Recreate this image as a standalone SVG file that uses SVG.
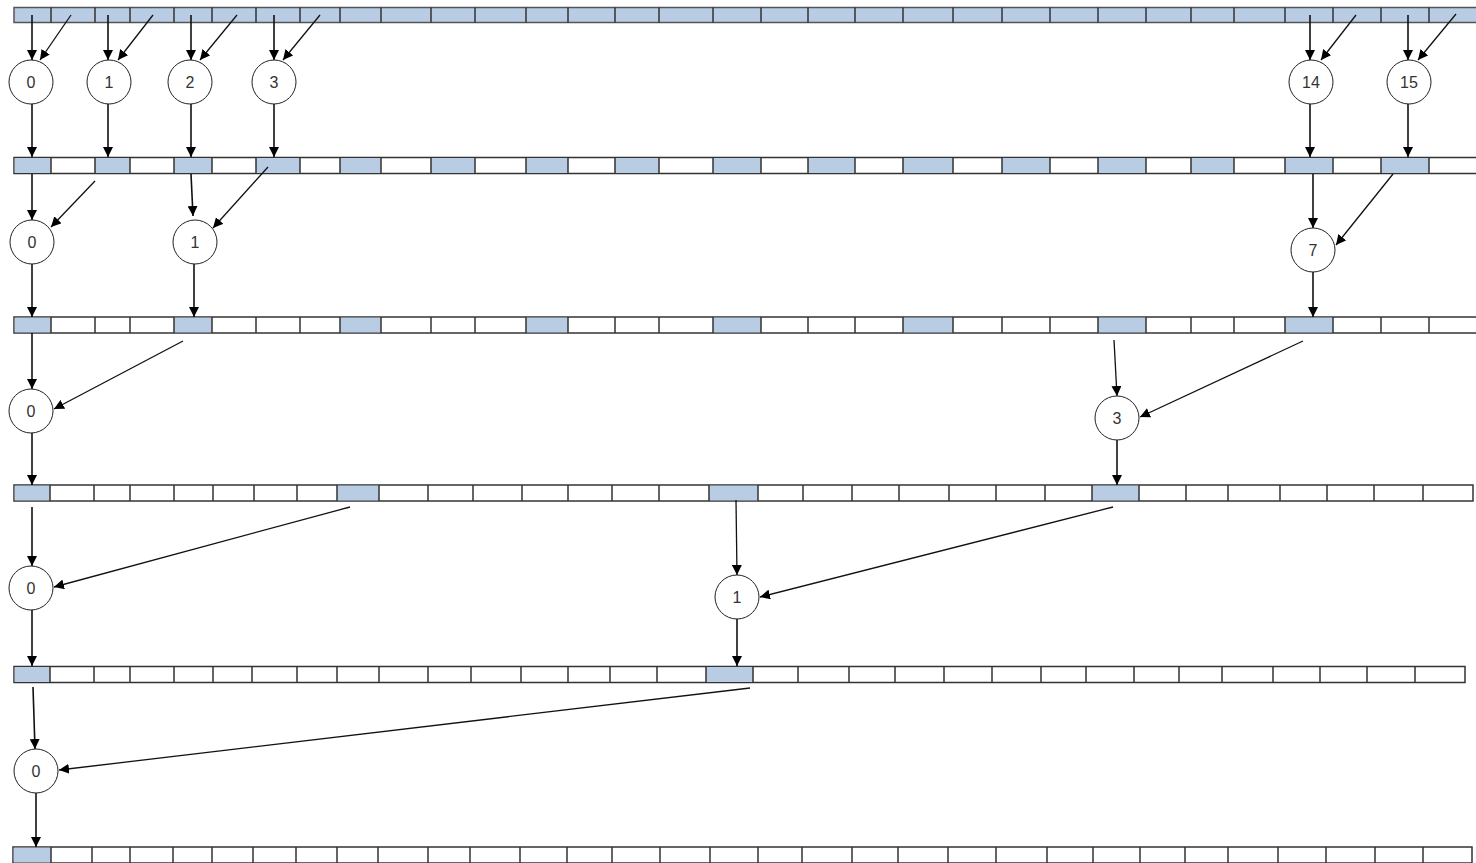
<svg xmlns="http://www.w3.org/2000/svg" width="1476" height="863" viewBox="0 0 1476 863">
<defs>
<marker id="ah" viewBox="0 0 10 10" refX="10" refY="5" markerWidth="10" markerHeight="10" markerUnits="userSpaceOnUse" orient="auto">
<path d="M0,0 L10,5 L0,10 z" fill="#000"/>
</marker>
</defs>
<style>
.row{fill:#fff;stroke:#333;stroke-width:1.5}
.sh{fill:#b8cce4;stroke:none}
.div{stroke:#333;stroke-width:1.5;fill:none}
.nd circle{fill:#fff;stroke:#222;stroke-width:1}
.nd text{font-family:"Liberation Sans",Arial,sans-serif;font-size:16px;fill:#333;text-anchor:middle;dominant-baseline:central}
.c line{stroke:#111;stroke-width:1.3;marker-end:url(#ah)}
.c line.v{stroke-width:1.6}
</style>
<rect width="1476" height="863" fill="#fff"/>

<g id="row1">
<rect class="row" x="14" y="7.5" width="1470" height="15" style="fill:#b8cce4;stroke:#555"/>
<path class="div" d="M51,7.5V22.5M95,7.5V22.5M130,7.5V22.5M174,7.5V22.5M212,7.5V22.5M256,7.5V22.5M300,7.5V22.5M340,7.5V22.5M381,7.5V22.5M431,7.5V22.5M475,7.5V22.5M526,7.5V22.5M568,7.5V22.5M615,7.5V22.5M659,7.5V22.5M713,7.5V22.5M761,7.5V22.5M808,7.5V22.5M855,7.5V22.5M903,7.5V22.5M953,7.5V22.5M1002,7.5V22.5M1050,7.5V22.5M1098,7.5V22.5M1146,7.5V22.5M1191,7.5V22.5M1234,7.5V22.5M1285,7.5V22.5M1333,7.5V22.5M1381,7.5V22.5M1429,7.5V22.5"/>
</g>

<g id="row2">
<rect class="row" x="14" y="157.5" width="1470" height="16"/>
<g class="sh">
<rect x="14.7" y="158.2" width="36.3" height="14.6"/><rect x="95" y="158.2" width="35" height="14.6"/><rect x="174" y="158.2" width="38" height="14.6"/><rect x="256" y="158.2" width="44" height="14.6"/><rect x="340" y="158.2" width="41" height="14.6"/><rect x="431" y="158.2" width="44" height="14.6"/><rect x="526" y="158.2" width="42" height="14.6"/><rect x="615" y="158.2" width="44" height="14.6"/><rect x="713" y="158.2" width="48" height="14.6"/><rect x="808" y="158.2" width="47" height="14.6"/><rect x="903" y="158.2" width="50" height="14.6"/><rect x="1002" y="158.2" width="48" height="14.6"/><rect x="1098" y="158.2" width="48" height="14.6"/><rect x="1191" y="158.2" width="43" height="14.6"/><rect x="1285" y="158.2" width="48" height="14.6"/><rect x="1381" y="158.2" width="48" height="14.6"/>
</g>
<path class="div" d="M51,157.5V173.5M95,157.5V173.5M130,157.5V173.5M174,157.5V173.5M212,157.5V173.5M256,157.5V173.5M300,157.5V173.5M340,157.5V173.5M381,157.5V173.5M431,157.5V173.5M475,157.5V173.5M526,157.5V173.5M568,157.5V173.5M615,157.5V173.5M659,157.5V173.5M713,157.5V173.5M761,157.5V173.5M808,157.5V173.5M855,157.5V173.5M903,157.5V173.5M953,157.5V173.5M1002,157.5V173.5M1050,157.5V173.5M1098,157.5V173.5M1146,157.5V173.5M1191,157.5V173.5M1234,157.5V173.5M1285,157.5V173.5M1333,157.5V173.5M1381,157.5V173.5M1429,157.5V173.5"/>
</g>

<g id="row3">
<rect class="row" x="14" y="317" width="1470" height="16"/>
<g class="sh">
<rect x="14.7" y="317.7" width="36.3" height="14.6"/><rect x="174" y="317.7" width="38" height="14.6"/><rect x="340" y="317.7" width="41" height="14.6"/><rect x="526" y="317.7" width="42" height="14.6"/><rect x="713" y="317.7" width="48" height="14.6"/><rect x="903" y="317.7" width="50" height="14.6"/><rect x="1098" y="317.7" width="48" height="14.6"/><rect x="1285" y="317.7" width="48" height="14.6"/>
</g>
<path class="div" d="M51,317V333M95,317V333M130,317V333M174,317V333M212,317V333M256,317V333M300,317V333M340,317V333M381,317V333M431,317V333M475,317V333M526,317V333M568,317V333M615,317V333M659,317V333M713,317V333M761,317V333M808,317V333M855,317V333M903,317V333M953,317V333M1002,317V333M1050,317V333M1098,317V333M1146,317V333M1191,317V333M1234,317V333M1285,317V333M1333,317V333M1381,317V333M1429,317V333"/>
</g>

<g id="row4">
<rect class="row" x="14" y="485" width="1459" height="16"/>
<g class="sh">
<rect x="14.7" y="485.7" width="35.3" height="14.6"/><rect x="337" y="485.7" width="42" height="14.6"/><rect x="709" y="485.7" width="49" height="14.6"/><rect x="1092" y="485.7" width="47" height="14.6"/>
</g>
<path class="div" d="M50,485V501M94,485V501M130,485V501M174,485V501M213,485V501M254,485V501M297,485V501M337,485V501M379,485V501M428,485V501M473,485V501M522,485V501M568,485V501M612,485V501M659,485V501M709,485V501M758,485V501M803,485V501M852,485V501M899,485V501M949,485V501M996,485V501M1045,485V501M1092,485V501M1139,485V501M1186,485V501M1228,485V501M1280,485V501M1327,485V501M1374,485V501M1423,485V501"/>
</g>

<g id="row5">
<rect class="row" x="14" y="666.5" width="1451" height="16"/>
<g class="sh">
<rect x="14.7" y="667.2" width="35.3" height="14.6"/><rect x="706" y="667.2" width="47" height="14.6"/>
</g>
<path class="div" d="M50,666.5V682.5M94,666.5V682.5M130,666.5V682.5M174,666.5V682.5M213,666.5V682.5M252,666.5V682.5M297,666.5V682.5M337,666.5V682.5M379,666.5V682.5M428,666.5V682.5M471,666.5V682.5M521,666.5V682.5M568,666.5V682.5M610,666.5V682.5M657,666.5V682.5M706,666.5V682.5M753,666.5V682.5M798,666.5V682.5M849,666.5V682.5M895,666.5V682.5M944,666.5V682.5M992,666.5V682.5M1041,666.5V682.5M1086,666.5V682.5M1134,666.5V682.5M1179,666.5V682.5M1222,666.5V682.5M1273,666.5V682.5M1320,666.5V682.5M1367,666.5V682.5M1415,666.5V682.5"/>
</g>

<g id="row6">
<rect class="row" x="13" y="847" width="1459" height="16"/>
<g class="sh">
<rect x="13.7" y="847.7" width="37.3" height="14.6"/>
</g>
<path class="div" d="M51,847V863M92,847V863M130,847V863M173,847V863M212,847V863M253,847V863M296,847V863M337,847V863M378,847V863M428,847V863M470,847V863M520,847V863M567,847V863M612,847V863M660,847V863M710,847V863M758,847V863M802,847V863M852,847V863M898,847V863M948,847V863M996,847V863M1047,847V863M1093,847V863M1140,847V863M1185,847V863M1228,847V863M1278,847V863M1326,847V863M1375,847V863M1423,847V863"/>
</g>

<g id="connectors" class="c">
<line class="v" x1="32" y1="15" x2="32" y2="60"/><line x1="71" y1="15" x2="40" y2="60"/>
<line class="v" x1="108" y1="15" x2="108" y2="60"/><line x1="153" y1="15" x2="118" y2="60"/>
<line class="v" x1="191" y1="15" x2="191" y2="60"/><line x1="237" y1="15" x2="200" y2="60"/>
<line class="v" x1="274" y1="15" x2="274" y2="60"/><line x1="320" y1="15" x2="283" y2="60"/>
<line class="v" x1="1310" y1="15" x2="1310" y2="60"/><line x1="1356" y1="15" x2="1321" y2="60"/>
<line class="v" x1="1408" y1="15" x2="1408" y2="60"/><line x1="1456" y1="14" x2="1418" y2="60"/>
<line class="v" x1="32" y1="104" x2="32" y2="157"/>
<line class="v" x1="108" y1="104" x2="108" y2="157"/>
<line class="v" x1="191" y1="104" x2="191" y2="157"/>
<line class="v" x1="274" y1="104" x2="274" y2="157"/>
<line class="v" x1="1310" y1="104" x2="1310" y2="157"/>
<line class="v" x1="1408" y1="104" x2="1408" y2="157"/>

<line class="v" x1="32" y1="174" x2="32" y2="220"/><line x1="95" y1="181" x2="51" y2="227"/>
<line class="v" x1="191" y1="174" x2="193" y2="216"/><line x1="268" y1="167" x2="213" y2="228"/>
<line class="v" x1="1313" y1="174" x2="1313" y2="228"/><line x1="1393" y1="174" x2="1336" y2="245"/>
<line class="v" x1="32" y1="264" x2="32" y2="317"/>
<line class="v" x1="194" y1="264" x2="194" y2="317"/>
<line class="v" x1="1313" y1="272" x2="1313" y2="317"/>

<line class="v" x1="32" y1="333" x2="32" y2="389"/><line x1="183" y1="341" x2="54" y2="409"/>
<line x1="1114" y1="340" x2="1117" y2="396"/><line x1="1303" y1="341" x2="1140" y2="417"/>
<line class="v" x1="32" y1="433" x2="32" y2="485"/>
<line class="v" x1="1117" y1="440" x2="1117" y2="485"/>

<line class="v" x1="32" y1="507" x2="32" y2="566"/><line x1="350" y1="507" x2="54" y2="587"/>
<line x1="736" y1="500" x2="737" y2="575"/><line x1="1113" y1="507" x2="760" y2="597"/>
<line class="v" x1="32" y1="610" x2="32" y2="666"/>
<line class="v" x1="737" y1="619" x2="737" y2="666"/>

<line class="v" x1="33" y1="687" x2="35" y2="749"/><line x1="750" y1="688" x2="59" y2="770"/>
<line class="v" x1="36" y1="793" x2="36" y2="847"/>
</g>

<g id="n1-0" class="nd"><circle cx="31" cy="82" r="22"/><text x="31" y="82">0</text></g>
<g id="n1-1" class="nd"><circle cx="109" cy="82" r="22"/><text x="109" y="82">1</text></g>
<g id="n1-2" class="nd"><circle cx="190" cy="82" r="22"/><text x="190" y="82">2</text></g>
<g id="n1-3" class="nd"><circle cx="274" cy="82" r="22"/><text x="274" y="82">3</text></g>
<g id="n1-14" class="nd"><circle cx="1311" cy="82" r="22"/><text x="1311" y="82">14</text></g>
<g id="n1-15" class="nd"><circle cx="1409" cy="82" r="22"/><text x="1409" y="82">15</text></g>

<g id="n2-0" class="nd"><circle cx="32" cy="242" r="22"/><text x="32" y="242">0</text></g>
<g id="n2-1" class="nd"><circle cx="195" cy="242" r="22"/><text x="195" y="242">1</text></g>
<g id="n2-7" class="nd"><circle cx="1313" cy="250" r="22"/><text x="1313" y="250">7</text></g>

<g id="n3-0" class="nd"><circle cx="31" cy="411" r="22"/><text x="31" y="411">0</text></g>
<g id="n3-3" class="nd"><circle cx="1117" cy="418" r="22"/><text x="1117" y="418">3</text></g>

<g id="n4-0" class="nd"><circle cx="31" cy="588" r="22"/><text x="31" y="588">0</text></g>
<g id="n4-1" class="nd"><circle cx="737" cy="597" r="22"/><text x="737" y="597">1</text></g>

<g id="n5-0" class="nd"><circle cx="36" cy="771" r="22"/><text x="36" y="771">0</text></g>
</svg>
